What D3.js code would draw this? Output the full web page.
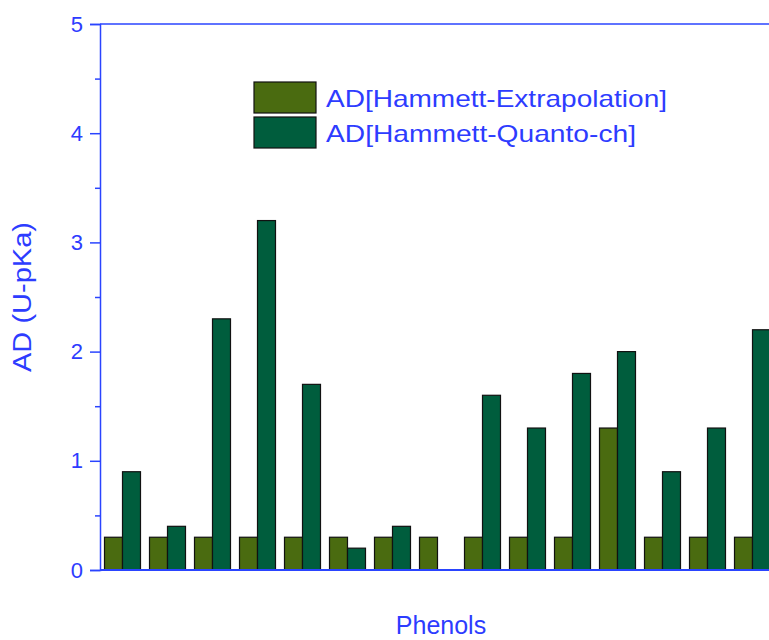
<!DOCTYPE html>
<html>
<head>
<meta charset="utf-8">
<script src="https://cdn.jsdelivr.net/npm/d3@7"></script>
<style>
  html, body { margin: 0; padding: 0; background: #fff; }
  svg { display: block; font-family: Arial, "Liberation Sans", sans-serif; }
</style>
</head>
<body>
<svg id="chart" width="769" height="640"></svg>
<script>
// ---- data ----
const categories = ["1","2","3","4","5","6","7","8","9","10","11","12","13","14","15"];
const seriesNames = ["AD[Hammett-Extrapolation]", "AD[Hammett-Quanto-ch]"];
const extrapolation = [0.3, 0.3, 0.3, 0.3, 0.3, 0.3, 0.3, 0.3, 0.3, 0.3, 0.3, 1.3, 0.3, 0.3, 0.3];
const quanto =        [0.9, 0.4, 2.3, 3.2, 1.7, 0.2, 0.4, 0,   1.6, 1.3, 1.8, 2.0, 0.9, 1.3, 2.2];
const yTicks = [0, 1, 2, 3, 4, 5];
const yMinorTicks = [0.5, 1.5, 2.5, 3.5, 4.5];
const colors = ["#4a6b10", "#005d3d"];
const axisColor = "#2a44ff";
const textColor = "#2d3cff";

const svg = d3.select("#chart");
const mLeft = 100, mRight = 775, mTop = 24, mBottom = 570;

const x = d3.scaleBand().domain(categories).range([mLeft, mRight]).paddingInner(0.2).paddingOuter(0.1);
const xs = d3.scaleBand().domain([0, 1]).range([0, x.bandwidth()]);
const y = d3.scaleLinear().domain([0, 5]).range([mBottom, mTop]);

const series = [extrapolation, quanto];

// bars
series.forEach((vals, si) => {
  svg.append("g").selectAll("rect")
    .data(categories.map((c, i) => ({c, v: vals[i]})).filter(d => d.v > 0))
    .join("rect")
    .attr("x", d => x(d.c) + xs(si))
    .attr("y", d => y(d.v))
    .attr("width", xs.bandwidth())
    .attr("height", d => y(0) - y(d.v))
    .attr("fill", colors[si])
    .attr("stroke", "#111")
    .attr("stroke-width", 1.2);
});

// top frame line
svg.append("line")
  .attr("x1", mLeft).attr("x2", 769).attr("y1", mTop).attr("y2", mTop)
  .attr("stroke", axisColor).attr("stroke-width", 1.5);

// bottom axis line
svg.append("line")
  .attr("x1", mLeft).attr("x2", 769).attr("y1", mBottom).attr("y2", mBottom)
  .attr("stroke", axisColor).attr("stroke-width", 2);

// y axis
const yAxis = svg.append("g").attr("transform", `translate(${mLeft},0)`)
  .call(d3.axisLeft(y).tickValues(yTicks).tickSize(10).tickPadding(7).tickFormat(d3.format("d")));
yAxis.select(".domain").attr("stroke", axisColor).attr("stroke-width", 1.5);
yAxis.selectAll(".tick line").attr("stroke", axisColor).attr("stroke-width", 1.5);
yAxis.selectAll(".tick text").attr("fill", textColor).attr("font-size", 22)
  .attr("font-family", "Arial, 'Liberation Sans', sans-serif");

const yMinor = svg.append("g").attr("transform", `translate(${mLeft},0)`)
  .call(d3.axisLeft(y).tickValues(yMinorTicks).tickSize(5).tickFormat(""));
yMinor.select(".domain").remove();
yMinor.selectAll(".tick line").attr("stroke", axisColor).attr("stroke-width", 1.5);

// axis titles
svg.append("text")
  .attr("transform", "translate(31,297) rotate(-90)")
  .attr("text-anchor", "middle")
  .attr("fill", textColor).attr("font-size", 25)
  .attr("textLength", 150).attr("lengthAdjust", "spacingAndGlyphs")
  .text("AD (U-pKa)");

svg.append("text")
  .attr("x", 441).attr("y", 634)
  .attr("text-anchor", "middle")
  .attr("fill", textColor).attr("font-size", 25)
  .text("Phenols");

// legend
const legend = svg.append("g");
seriesNames.forEach((name, i) => {
  const yy = 82 + i * 35;
  legend.append("rect")
    .attr("x", 254).attr("y", yy).attr("width", 62).attr("height", 31)
    .attr("fill", colors[i]).attr("stroke", "#111").attr("stroke-width", 1.2);
  legend.append("text")
    .attr("x", 326).attr("y", yy + 25)
    .attr("fill", textColor).attr("font-size", 24)
    .attr("textLength", i === 0 ? 341 : 310).attr("lengthAdjust", "spacingAndGlyphs")
    .text(name);
});
</script>
</body>
</html>
